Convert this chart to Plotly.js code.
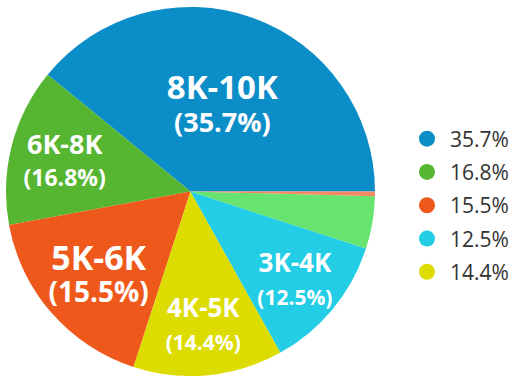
<!DOCTYPE html>
<html>
<head>
<meta charset="utf-8">
<script src="https://cdn.plot.ly/plotly-3.0.1.min.js"></script>
<style>html,body{margin:0;padding:0;background:#fff;}#chart{width:520px;height:380px;}</style>
</head>
<body>
<div id="chart"></div>
<script>
// Slice categories (counter-clockwise from 3 o'clock)
var categories = ['8K-10K', '6K-8K', '5K-6K', '4K-5K', '3K-4K', 'other1', 'other2'];
// Share of the circle for each slice
var sliceShares = [39.1, 13.8, 17.1, 13.1, 11.9, 4.6, 0.4];
// Percent labels printed on the chart
var pctLabels = ['35.7%', '16.8%', '15.5%', '14.4%', '12.5%', '', ''];
// Legend entries (order as shown)
var legendLabels = ['35.7%', '16.8%', '15.5%', '12.5%', '14.4%'];

var colors = ['#0b8dc8', '#56b531', '#ef581b', '#dddc00', '#23cde5', '#67e46f', '#f48a63'];
var legendColors = ['#0b8dc8', '#56b531', '#ef581b', '#23cde5', '#dddc00'];
var labelSizes = [33, 27, 34, 26, 26, 0, 0];
var pctSizes = [27, 23, 28, 21, 21, 0, 0];
var baseSize = 25;

var templates = categories.map(function (c, i) {
  if (!pctLabels[i]) return '';
  return '<b><span style="font-size:' + labelSizes[i] + 'px">%{label}</span><br>' +
         '<span style="font-size:' + pctSizes[i] + 'px">(%{text})</span></b>';
});

// First slice ends at 3 o'clock and runs counter-clockwise
var rot = 90 - 3.6 * sliceShares[0] / (sliceShares.reduce(function (a, b) { return a + b; }, 0) / 100);

var traces = [{
  type: 'pie',
  labels: categories,
  values: sliceShares,
  text: pctLabels,
  texttemplate: templates,
  textposition: 'inside',
  insidetextorientation: 'horizontal',
  textfont: {family: 'Open Sans, sans-serif', color: '#ffffff', size: baseSize},
  marker: {colors: colors, line: {width: 0}},
  sort: false,
  direction: 'counterclockwise',
  rotation: rot,
  showlegend: false,
  hoverinfo: 'none',
  domain: {x: [6 / 520, 375 / 520], y: [4 / 380, 373 / 380]}
}];

legendLabels.forEach(function (lab, i) {
  traces.push({
    type: 'scatter',
    mode: 'markers',
    x: [null], y: [null],
    name: lab,
    legendgroup: 'g' + i,
    marker: {color: legendColors[i], size: 17, symbol: 'circle'},
    showlegend: true,
    hoverinfo: 'none'
  });
});

var layout = {
  width: 520, height: 380,
  margin: {l: 0, r: 0, t: 0, b: 0},
  paper_bgcolor: '#ffffff',
  plot_bgcolor: '#ffffff',
  xaxis: {visible: false},
  yaxis: {visible: false},
  showlegend: true,
  uniformtext: {mode: 'show', minsize: baseSize},
  legend: {
    x: 404 / 520, xanchor: 'left',
    y: 1 - 205.5 / 380, yanchor: 'middle',
    traceorder: 'grouped',
    tracegroupgap: 3,
    itemsizing: 'trace',
    itemwidth: 36,
    font: {family: 'Open Sans, sans-serif', size: 21, color: '#333333'},
    bgcolor: 'rgba(0,0,0,0)'
  }
};

Plotly.newPlot('chart', traces, layout, {staticPlot: true, displayModeBar: false});
</script>
</body>
</html>
